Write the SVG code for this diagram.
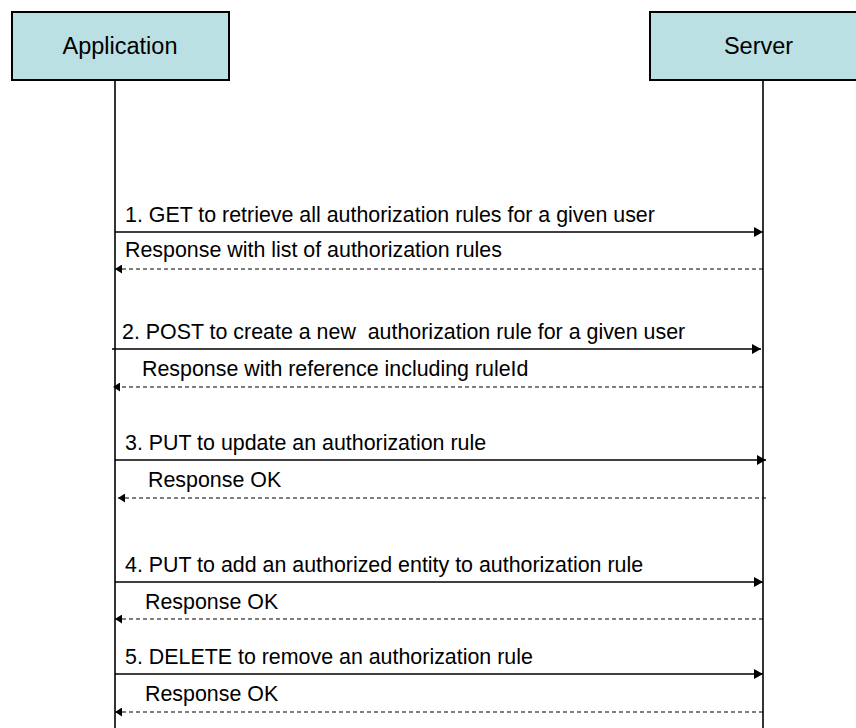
<svg xmlns="http://www.w3.org/2000/svg" width="856" height="728" viewBox="0 0 856 728">
<style>
.box{fill:#bbe0e3;stroke:#000;stroke-width:2}
.hdr{font-family:"Liberation Sans",Arial,sans-serif;font-size:23.5px;fill:#000;text-anchor:middle}
.life{stroke:#000;stroke-width:1.6;fill:none}
.msg{font-family:"Liberation Sans",Arial,sans-serif;font-size:21.4px;fill:#000;white-space:pre}
.req{stroke:#000;stroke-width:1.4;fill:none;marker-end:url(#ah)}
.rsp{stroke:#000;stroke-width:1.2;fill:none;stroke-dasharray:4 3;marker-end:url(#ah2)}
</style>
<defs>
<marker id="ah" viewBox="0 0 10 10" refX="10" refY="5" markerWidth="9" markerHeight="10" markerUnits="userSpaceOnUse" orient="auto" preserveAspectRatio="none">
<path d="M0,0 L10,5 L0,10 Z" fill="#000"/>
</marker>
<marker id="ah2" viewBox="0 0 10 10" refX="10" refY="5" markerWidth="7" markerHeight="9" markerUnits="userSpaceOnUse" orient="auto" preserveAspectRatio="none">
<path d="M0,0 L10,5 L0,10 Z" fill="#000"/>
</marker>
</defs>
<rect width="856" height="728" fill="#fff"/>
<g id="application">
<rect class="box" x="12" y="12" width="217" height="68"/>
<text class="hdr" x="120" y="54">Application</text>
<line class="life" x1="115" y1="80" x2="115" y2="728"/>
</g>
<g id="server">
<rect class="box" x="650" y="12" width="217" height="68"/>
<text class="hdr" x="758.5" y="54">Server</text>
<line class="life" x1="763" y1="80" x2="763" y2="728"/>
</g>
<g id="connectors">
<line class="req" x1="115" y1="232" x2="763" y2="232"/>
<line class="rsp" x1="763" y1="269" x2="115" y2="269"/>
<line class="req" x1="112" y1="349" x2="761" y2="349"/>
<line class="rsp" x1="763" y1="387" x2="113" y2="387"/>
<line class="req" x1="115" y1="460" x2="766" y2="460"/>
<line class="rsp" x1="766" y1="498" x2="118" y2="498"/>
<line class="req" x1="115" y1="582" x2="763" y2="582"/>
<line class="rsp" x1="763" y1="619" x2="115" y2="619"/>
<line class="req" x1="115" y1="674" x2="763" y2="674"/>
<line class="rsp" x1="763" y1="712" x2="115" y2="712"/>
</g>
<g id="labels">
<text class="msg" x="125" y="222">1. GET to retrieve all authorization rules for a given user</text>
<text class="msg" x="125" y="257">Response with list of authorization rules</text>
<text class="msg" x="122" y="339" xml:space="preserve">2. POST to create a new  authorization rule for a given user</text>
<text class="msg" x="142" y="376">Response with reference including ruleId</text>
<text class="msg" x="125" y="450">3. PUT to update an authorization rule</text>
<text class="msg" x="148" y="487">Response OK</text>
<text class="msg" x="125" y="572">4. PUT to add an authorized entity to authorization rule</text>
<text class="msg" x="145" y="609">Response OK</text>
<text class="msg" x="125" y="664">5. DELETE to remove an authorization rule</text>
<text class="msg" x="145" y="701">Response OK</text>
</g>
</svg>
